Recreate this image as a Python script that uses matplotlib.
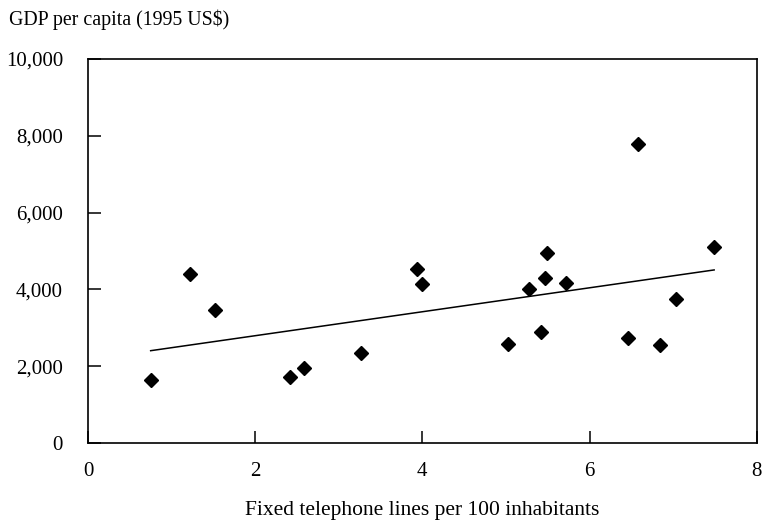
import matplotlib.pyplot as plt
from matplotlib.ticker import FuncFormatter, FixedLocator
import numpy as np

plt.rcParams['font.family'] = ['Liberation Serif', 'DejaVu Serif']

# Fixed telephone lines per 100 inhabitants vs GDP per capita (1995 US$)
phone_lines = [0.75, 1.22, 1.52, 2.42, 2.58, 3.26, 3.94, 4.00, 5.02, 5.28,
               5.42, 5.47, 5.49, 5.72, 6.46, 6.58, 6.84, 7.03, 7.49]
gdp = [1630, 4390, 3460, 1715, 1960, 2345, 4540, 4140, 2590, 4000,
       2900, 4290, 4960, 4160, 2740, 7790, 2540, 3750, 5100]

# trend line
trend_intercept = 2170
trend_slope = 312

x_ticks = [0, 2, 4, 6, 8]
y_ticks = [0, 2000, 4000, 6000, 8000, 10000]

fig = plt.figure(figsize=(7.73, 5.25), dpi=100)
ax = fig.add_axes([0.1138, 0.1562, 0.979 - 0.1138, 0.8876 - 0.1562])

ax.plot(phone_lines, gdp, linestyle='none', marker='D', markersize=7.5,
        color='black', zorder=3)

tx = np.array([min(phone_lines), max(phone_lines)])
ax.plot(tx, trend_intercept + trend_slope * tx, color='black', linewidth=1.1)

ax.set_xlim(0, 8)
ax.set_ylim(0, 10000)
ax.xaxis.set_major_locator(FixedLocator(x_ticks))
ax.yaxis.set_major_locator(FixedLocator(y_ticks))
ax.yaxis.set_major_formatter(FuncFormatter(lambda v, p: f'{int(v):,}'))

ax.tick_params(direction='in', length=9, width=1.1, labelsize=15, colors='black')
ax.tick_params(axis='y', pad=18)
ax.tick_params(axis='x', pad=14)
for s in ax.spines.values():
    s.set_linewidth(1.2)

ax.set_xlabel('Fixed telephone lines per 100 inhabitants', fontsize=15.5, labelpad=14)
fig.text(0.012, 0.962, 'GDP per capita (1995 US$)', fontsize=14.3, va='center', ha='left')

fig.savefig('out.png', dpi=100)
